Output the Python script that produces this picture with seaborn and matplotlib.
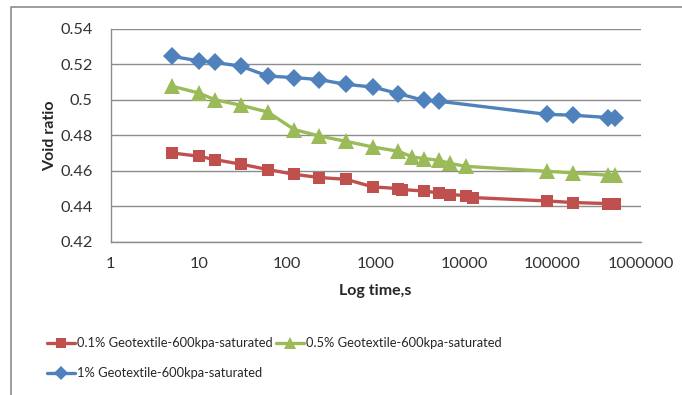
import pandas as pd
import matplotlib
matplotlib.use("Agg")
import matplotlib.pyplot as plt
from matplotlib.lines import Line2D
import seaborn as sns

# elapsed time (s) for each reading
t_red = [5, 10, 15, 30, 60, 120, 230, 460, 930, 1800, 2000, 3500, 5200, 7000,
         10500, 12500, 86400, 172800, 432000, 518400]
t_green = [5, 10, 15, 30, 60, 120, 230, 460, 930, 1800, 2600, 3500, 5200, 7000,
           10500, 86400, 172800, 432000, 518400]
t_blue = [5, 10, 15, 30, 60, 120, 230, 460, 930, 1800, 3500, 5200,
          86400, 172800, 432000, 518400]

# void ratio
e_red = [0.4700, 0.4682, 0.4663, 0.4637, 0.4607, 0.4580, 0.4562, 0.4552, 0.4509,
         0.4500, 0.4494, 0.4486, 0.4475, 0.4466, 0.4460, 0.4449, 0.4430, 0.4421,
         0.4415, 0.4410]
e_green = [0.5076, 0.5038, 0.5001, 0.4969, 0.4931, 0.4832, 0.4796, 0.4766, 0.4734,
           0.4710, 0.4678, 0.4669, 0.4659, 0.4641, 0.4625, 0.4597, 0.4588, 0.4575,
           0.4575]
e_blue = [0.5245, 0.5219, 0.5211, 0.5189, 0.5134, 0.5125, 0.5114, 0.5087, 0.5072,
          0.5035, 0.4997, 0.4992, 0.4918, 0.4913, 0.4900, 0.4900]

names = ["0.1% Geotextile-600kpa-saturated",
         "0.5% Geotextile-600kpa-saturated",
         "1% Geotextile-600kpa-saturated"]

df = pd.concat([
    pd.DataFrame({"time": t_red, "e": e_red, "series": names[0]}),
    pd.DataFrame({"time": t_green, "e": e_green, "series": names[1]}),
    pd.DataFrame({"time": t_blue, "e": e_blue, "series": names[2]}),
])

colors = {names[0]: "#C0504D", names[1]: "#9BBB59", names[2]: "#4F81BD"}
marks = {names[0]: "s", names[1]: "^", names[2]: "D"}
msize = {"s": 9, "^": 11, "D": 9}

sns.set_style("white")
plt.rcParams["font.family"] = ["Lato", "DejaVu Sans"]

fig = plt.figure(figsize=(6.82, 3.95), dpi=100)
ax = fig.add_axes([0.1623, 0.388, 0.7771, 0.539])

sns.lineplot(data=df, x="time", y="e", hue="series", style="series",
             palette=colors, markers=marks, dashes=False, linewidth=2.4,
             markersize=9, markeredgewidth=0, ax=ax, legend=False)
for ln in ax.lines:
    m = ln.get_marker()
    if m in msize:
        ln.set_markersize(msize[m])

ax.set_xscale("log")
ax.set_xlim(1, 1000000)
ax.set_ylim(0.42, 0.54)
ax.set_yticks([0.42, 0.44, 0.46, 0.48, 0.5, 0.52, 0.54])
ax.set_yticklabels(["0.42", "0.44", "0.46", "0.48", "0.5", "0.52", "0.54"])
ax.set_xticks([1, 10, 100, 1000, 10000, 100000, 1000000])
ax.set_xticklabels(["1", "10", "100", "1000", "10000", "100000", "1000000"])
ax.minorticks_off()
ax.tick_params(length=0, labelsize=11.8, colors="#333333")
ax.tick_params(axis="y", pad=13)
ax.tick_params(axis="x", pad=11)
ax.grid(axis="y", color="#8C8C8C", linewidth=1)
ax.grid(axis="x", visible=False)
for s in ["top", "right"]:
    ax.spines[s].set_visible(False)
for s in ["left", "bottom"]:
    ax.spines[s].set_color("#8C8C8C")
    ax.spines[s].set_linewidth(1)

ax.set_xlabel("Log time,s", fontsize=11.5, fontweight="bold", labelpad=9)
ax.set_ylabel("Void ratio", fontsize=11.5, fontweight="bold", labelpad=2.5)

# legend: red and green on first row, blue below
handles = [Line2D([], [], color=colors[n], marker=marks[n],
                  markersize=msize[marks[n]] * 0.8,
                  linewidth=2.4, markeredgewidth=0) for n in names]
order = [0, 2, 1]
fig.legend([handles[i] for i in order], [names[i] for i in order],
           ncol=2, loc="upper left", bbox_to_anchor=(0.061, 0.159),
           frameon=False, fontsize=9.3, handlelength=2.17, handletextpad=0.15,
           columnspacing=0.3, labelspacing=1.4, borderaxespad=0)

# outer chart border (left and top only visible)
fig.add_artist(Line2D([11 / 682, 11 / 682, 1.0], [0.0, 1 - 7 / 395, 1 - 7 / 395],
                      transform=fig.transFigure, color="#8C8C8C", linewidth=1.2))

fig.savefig("out.png", dpi=100)
